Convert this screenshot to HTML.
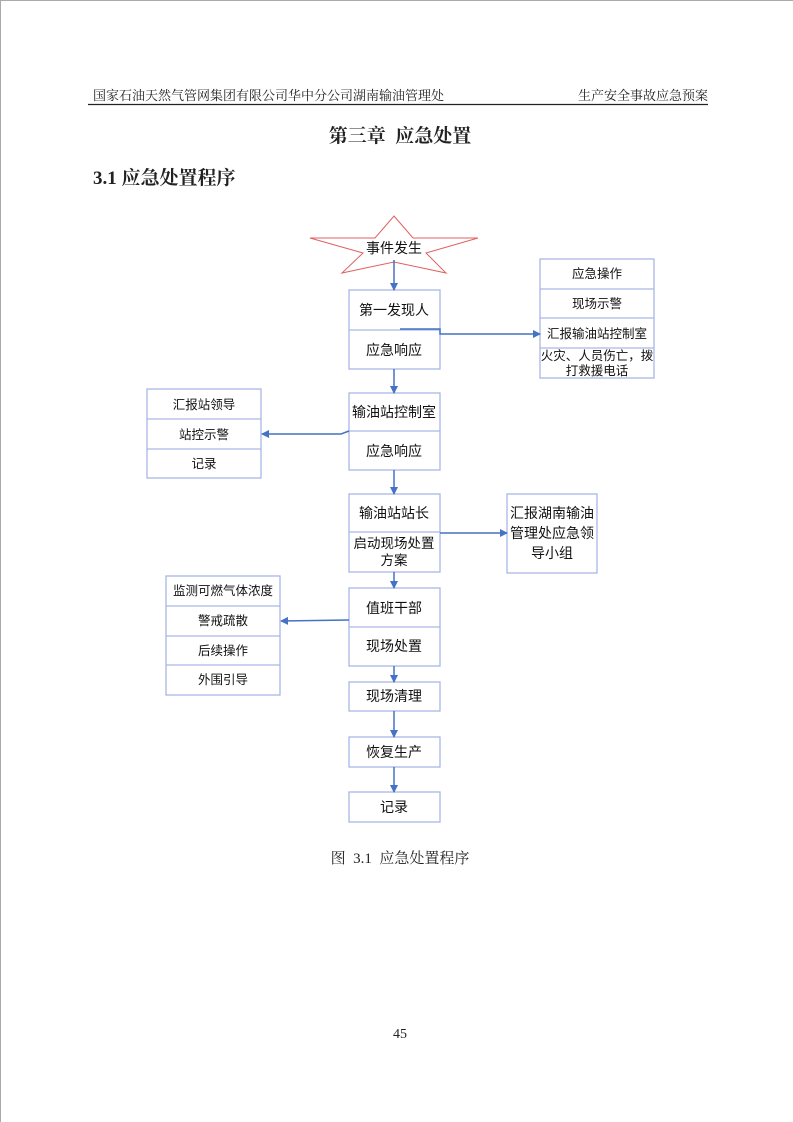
<!DOCTYPE html>
<html><head><meta charset="utf-8"><style>
html,body{margin:0;padding:0;background:#fff;}
svg{display:block;}
</style></head><body>
<svg width="793" height="1122" viewBox="0 0 793 1122" xmlns="http://www.w3.org/2000/svg">
<defs>
<marker id="a" markerWidth="8" markerHeight="8" refX="7" refY="4" orient="auto" markerUnits="userSpaceOnUse">
<path d="M0,0 L8,4 L0,8 Z" fill="#4472c4"/></marker>
</defs>
<line x1="0" y1="0.5" x2="793" y2="0.5" stroke="#aaa" stroke-width="1"/>
<line x1="0.5" y1="0" x2="0.5" y2="1122" stroke="#aaa" stroke-width="1"/>
<g font-family="Liberation Serif, 'Noto Serif CJK SC', serif" fill="#222">
<text x="93" y="100" font-size="13">国家石油天然气管网集团有限公司华中分公司湖南输油管理处</text>
<text x="708" y="100" font-size="13" text-anchor="end">生产安全事故应急预案</text>
<text x="400" y="142" font-size="19" font-weight="bold" text-anchor="middle">第三章&#160;&#160;应急处置</text>
<text x="93" y="184" font-size="19" font-weight="bold">3.1 应急处置程序</text>
<text x="400" y="863" font-size="15" text-anchor="middle">图&#160;&#160;3.1&#160;&#160;应急处置程序</text>
<text x="400" y="1038" font-size="14" text-anchor="middle">45</text>
</g>
<line x1="88" y1="104.5" x2="708" y2="104.5" stroke="#222" stroke-width="1.2"/>
<polygon points="394,216 413,238 478,238 426,253 446,273 394,262 342,273 363,253 310,238 375,238" fill="#fff" stroke="#e06060" stroke-width="1"/>
<g fill="#fff" stroke="#a9b6e4" stroke-width="1.3">
<rect x="349" y="290" width="91" height="79"/><line x1="349" y1="330" x2="440" y2="330"/>
<rect x="540" y="259" width="114" height="119"/><line x1="540" y1="289" x2="654" y2="289"/><line x1="540" y1="318" x2="654" y2="318"/><line x1="540" y1="348" x2="654" y2="348"/>
<rect x="349" y="393" width="91" height="77"/><line x1="349" y1="431" x2="440" y2="431"/>
<rect x="147" y="389" width="114" height="89"/><line x1="147" y1="419" x2="261" y2="419"/><line x1="147" y1="449" x2="261" y2="449"/>
<rect x="349" y="494" width="91" height="78"/><line x1="349" y1="532" x2="440" y2="532"/>
<rect x="507" y="494" width="90" height="79"/>
<rect x="349" y="588" width="91" height="78"/><line x1="349" y1="627" x2="440" y2="627"/>
<rect x="166" y="576" width="114" height="119"/><line x1="166" y1="606" x2="280" y2="606"/><line x1="166" y1="636" x2="280" y2="636"/><line x1="166" y1="665" x2="280" y2="665"/>
<rect x="349" y="682" width="91" height="29"/>
<rect x="349" y="737" width="91" height="30"/>
<rect x="349" y="792" width="91" height="30"/>
</g>
<g stroke="#4472c4" stroke-width="1.5" fill="none" marker-end="url(#a)">
<line x1="394" y1="260" x2="394" y2="290"/>
<polyline points="400,329 440,329 440,334 540,334"/>
<line x1="394" y1="369" x2="394" y2="393"/>
<polyline points="349,431 341,434 262,434"/>
<line x1="394" y1="470" x2="394" y2="494"/>
<line x1="440" y1="533" x2="507" y2="533"/>
<line x1="394" y1="572" x2="394" y2="588"/>
<line x1="349" y1="620" x2="281" y2="621"/>
<line x1="394" y1="666" x2="394" y2="682"/>
<line x1="394" y1="711" x2="394" y2="737"/>
<line x1="394" y1="767" x2="394" y2="792"/>
</g>
<g font-family="Liberation Sans, 'Noto Sans CJK SC', sans-serif" fill="#111" text-anchor="middle">
<text x="394" y="253" font-size="14">事件发生</text>
<text x="394" y="315" font-size="14">第一发现人</text>
<text x="394" y="355" font-size="14">应急响应</text>
<text x="597" y="278" font-size="12.5">应急操作</text>
<text x="597" y="308" font-size="12.5">现场示警</text>
<text x="597" y="338" font-size="12.5">汇报输油站控制室</text>
<text x="597" y="360" font-size="12.5">火灾、人员伤亡，拨</text>
<text x="597" y="375" font-size="12.5">打救援电话</text>
<text x="394" y="417" font-size="14">输油站控制室</text>
<text x="394" y="456" font-size="14">应急响应</text>
<text x="204" y="409" font-size="12.5">汇报站领导</text>
<text x="204" y="439" font-size="12.5">站控示警</text>
<text x="204" y="468" font-size="12.5">记录</text>
<text x="394" y="518" font-size="14">输油站站长</text>
<text x="394" y="548" font-size="13.5">启动现场处置</text>
<text x="394" y="565" font-size="13.5">方案</text>
<text x="552" y="518" font-size="14">汇报湖南输油</text>
<text x="552" y="538" font-size="14">管理处应急领</text>
<text x="552" y="558" font-size="14">导小组</text>
<text x="394" y="613" font-size="14">值班干部</text>
<text x="394" y="651" font-size="14">现场处置</text>
<text x="223" y="595" font-size="12.5">监测可燃气体浓度</text>
<text x="223" y="625" font-size="12.5">警戒疏散</text>
<text x="223" y="655" font-size="12.5">后续操作</text>
<text x="223" y="684" font-size="12.5">外围引导</text>
<text x="394" y="701" font-size="14">现场清理</text>
<text x="394" y="757" font-size="14">恢复生产</text>
<text x="394" y="812" font-size="14">记录</text>
</g>
</svg>
</body></html>
